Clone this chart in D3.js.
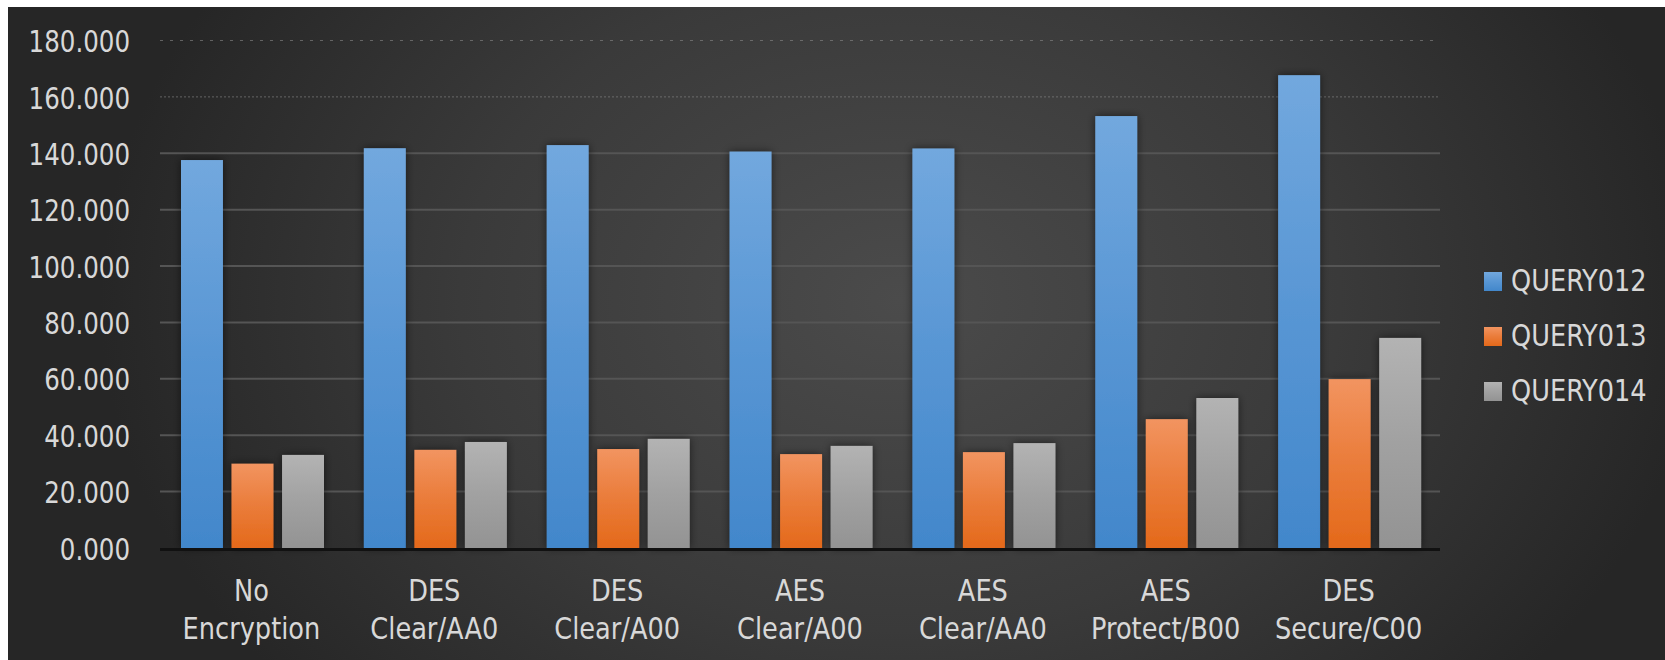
<!DOCTYPE html>
<html>
<head>
<meta charset="utf-8">
<script src="https://cdn.jsdelivr.net/npm/d3@7"></script>
<style>
  html, body { margin: 0; padding: 0; background: #fff; }
  svg { display: block; }
</style>
</head>
<body>
<svg width="1665" height="660"></svg>
<script>
// data
const categories = ['No\nEncryption', 'DES\nClear/AA0', 'DES\nClear/A00', 'AES\nClear/A00', 'AES\nClear/AA0', 'AES\nProtect/B00', 'DES\nSecure/C00'];
const seriesNames = ['QUERY012', 'QUERY013', 'QUERY014'];
const query012 = [137.6, 141.8, 142.9, 140.6, 141.7, 153.2, 167.7];
const query013 = [29.9, 34.8, 35.1, 33.3, 34.0, 45.7, 59.9];
const query014 = [33.0, 37.6, 38.7, 36.2, 37.2, 53.2, 74.5];
const yTicks = [0, 20, 40, 60, 80, 100, 120, 140, 160, 180];

const seriesValues = [query012, query013, query014];
const FONT = '"Liberation Sans Narrow", "DejaVu Sans Condensed", "Open Sans", sans-serif';
const TEXT_COLOR = '#d8d8d8';

const SVG = d3.select('svg');
const defs = SVG.append('defs');

// background
const bg = defs.append('radialGradient')
  .attr('id', 'bgGrad')
  .attr('gradientUnits', 'userSpaceOnUse')
  .attr('cx', 900).attr('cy', 300).attr('r', 800)
  .attr('gradientTransform', 'translate(900,300) scale(1,0.75) translate(-900,-300)');
bg.append('stop').attr('offset', '0%').attr('stop-color', '#4b4b4b');
bg.append('stop').attr('offset', '55%').attr('stop-color', '#3a3a3a');
bg.append('stop').attr('offset', '100%').attr('stop-color', '#262626');
SVG.append('rect')
  .attr('x', 8).attr('y', 7)
  .attr('width', 1665 - 8).attr('height', 660 - 7)
  .attr('fill', 'url(#bgGrad)');

// bar gradients
const barColors = [['#72a8de', '#4287cb'], ['#f29460', '#e4691a'], ['#b3b3b3', '#939393']];
barColors.forEach((c, i) => {
  const g = defs.append('linearGradient')
    .attr('id', `barGrad${i}`)
    .attr('x1', 0).attr('y1', 0).attr('x2', 0).attr('y2', 1);
  g.append('stop').attr('offset', '0%').attr('stop-color', c[0]);
  g.append('stop').attr('offset', '50%').attr('stop-color', d3.interpolateRgb(c[0], c[1])(0.55));
  g.append('stop').attr('offset', '100%').attr('stop-color', c[1]);
});

const shadow = defs.append('filter')
  .attr('id', 'shadow')
  .attr('x', '-50%').attr('y', '-10%').attr('width', '200%').attr('height', '120%');
shadow.append('feDropShadow')
  .attr('dx', 0).attr('dy', 0).attr('stdDeviation', 4)
  .attr('flood-color', '#000').attr('flood-opacity', 0.55);

// scales
const Y_SCALE = d3.scaleLinear().domain([0, 180]).range([548, 40.5]);
const X0 = d3.scaleBand().domain(categories).range([160, 1440]);
const X1 = d3.scaleBand().domain(seriesNames).range([21, 164]).paddingInner(0.17);

// gridlines
const GRID = SVG.append('g').attr('id', 'grid');
yTicks.filter(t => t > 0).forEach(t => {
  GRID.append('line')
    .attr('x1', 160).attr('x2', 1440)
    .attr('y1', Y_SCALE(t)).attr('y2', Y_SCALE(t))
    .style('stroke', t >= 160 ? '#8a8a8a' : '#555')
    .style('stroke-width', t >= 160 ? 1 : 2)
    .style('stroke-dasharray', t === 180 ? '3,7' : (t === 160 ? '2,2' : null))
    .style('opacity', t >= 160 ? 0.6 : 1);
});

// y axis labels
const Y_AXIS = d3.axisLeft(Y_SCALE)
  .tickValues(yTicks)
  .tickFormat(d3.format('.3f'))
  .tickSize(0)
  .tickPadding(0);
const Y_AXIS_G = SVG.append('g')
  .attr('id', 'yAxis')
  .attr('transform', 'translate(130,0)');
Y_AXIS(Y_AXIS_G);
Y_AXIS_G.select('.domain').remove();
Y_AXIS_G.selectAll('text')
  .attr('x', 0)
  .attr('transform', 'scale(0.88,1)')
  .style('font-family', FONT)
  .style('font-size', '31px')
  .style('fill', TEXT_COLOR)
  .attr('dy', '0.36em');

// bars
const CHART = SVG.append('g').attr('id', 'chart');
categories.forEach((cat, ci) => {
  const grp = CHART.append('g')
    .attr('transform', `translate(${X0(cat)},0)`);
  grp.selectAll('rect')
    .data(seriesValues.map((s, si) => ({ name: seriesNames[si], v: s[ci], si })))
    .join('rect')
    .attr('x', d => X1(d.name))
    .attr('width', X1.bandwidth())
    .attr('y', d => Y_SCALE(d.v))
    .attr('height', d => Y_SCALE(0) - Y_SCALE(d.v))
    .attr('fill', d => `url(#barGrad${d.si})`)
    .attr('filter', 'url(#shadow)');
});

// baseline
SVG.append('line')
  .attr('x1', 160).attr('x2', 1440)
  .attr('y1', Y_SCALE(0) + 1.5).attr('y2', Y_SCALE(0) + 1.5)
  .style('stroke', '#111')
  .style('stroke-width', 3);

// x labels
const X_LABELS = SVG.append('g').attr('id', 'xLabels');
categories.forEach(cat => {
  const lines = cat.split('\n');
  const t = X_LABELS.append('g')
    .attr('transform', `translate(${X0(cat) + X0.bandwidth() / 2},601) scale(0.92,1)`)
    .append('text')
    .attr('text-anchor', 'middle')
    .style('font-family', FONT)
    .style('font-size', '31px')
    .style('fill', TEXT_COLOR);
  lines.forEach((ln, i) => {
    t.append('tspan')
      .attr('x', 0)
      .attr('dy', i === 0 ? 0 : 38)
      .text(ln);
  });
});

// legend
const LEGEND = SVG.append('g').attr('id', 'legend');
seriesNames.forEach((name, i) => {
  const y = 272 + i * 55;
  LEGEND.append('rect')
    .attr('x', 1484).attr('y', y)
    .attr('width', 18).attr('height', 19)
    .attr('fill', `url(#barGrad${i})`);
  LEGEND.append('g')
    .attr('transform', `translate(1511,${y + 19}) scale(0.95,1)`)
    .append('text')
    .style('font-family', FONT)
    .style('font-size', '30px')
    .style('fill', TEXT_COLOR)
    .text(name);
});
</script>
</body>
</html>
